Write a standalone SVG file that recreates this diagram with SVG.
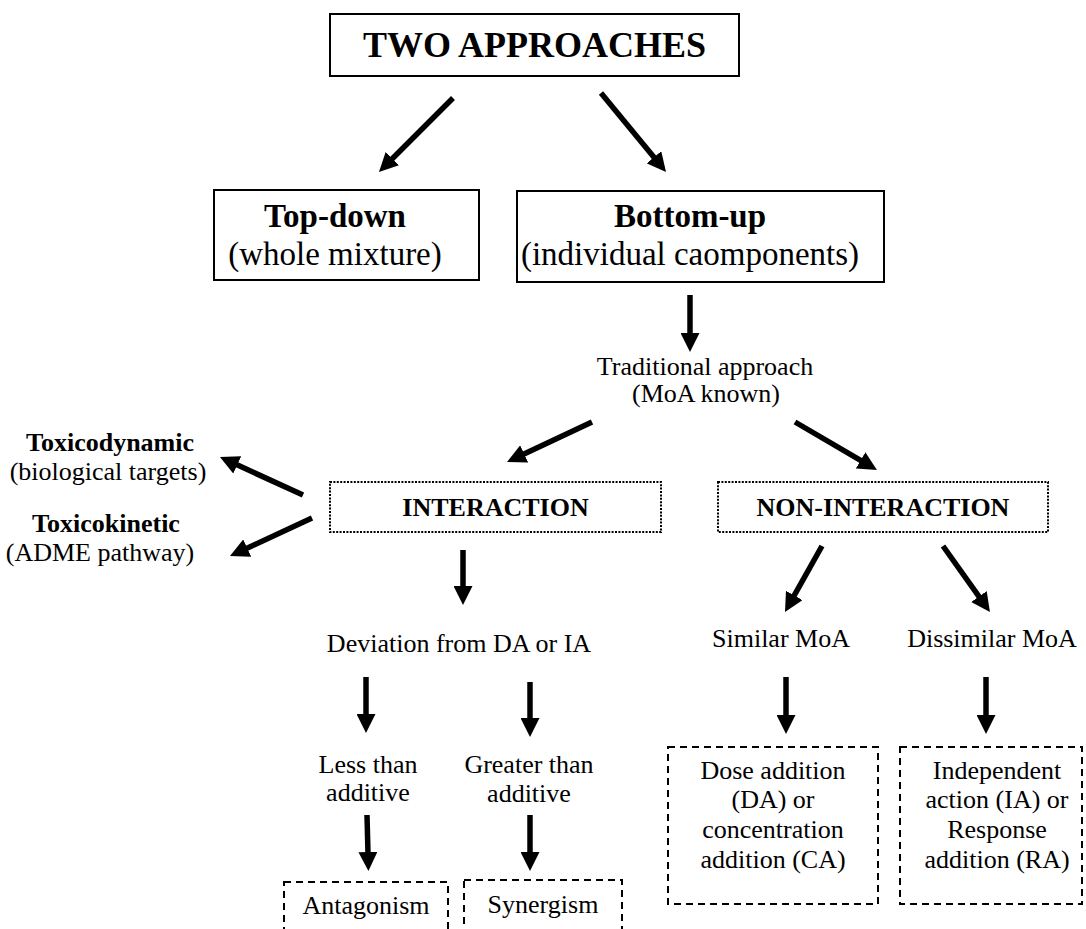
<svg xmlns="http://www.w3.org/2000/svg" width="1086" height="929" viewBox="0 0 1086 929">
<style>
text{font-family:"Liberation Serif","Times New Roman",serif;fill:#000;text-anchor:middle}
.b{font-weight:bold}
.t1{font-size:36px}
.t2{font-size:33px}
.t3{font-size:26px}
.solid{fill:#fff;stroke:#000;stroke-width:2}
.dot{fill:none;stroke:#000;stroke-width:2;stroke-dasharray:2 1.4}
.dash{fill:none;stroke:#000;stroke-width:2;stroke-dasharray:7 5}
.arr{stroke:#000;stroke-width:5.5;fill:none;marker-end:url(#ah)}
</style>
<defs>
<marker id="ah" markerUnits="userSpaceOnUse" markerWidth="19" markerHeight="19" refX="2" refY="9.5" orient="auto">
<path d="M0,0 L19,9.5 L0,19 z" fill="#000"/>
</marker>
</defs>
<rect width="1086" height="929" fill="#fff"/>
<g id="connectors">
<line class="arr" x1="453" y1="98" x2="391" y2="160"/>
<line class="arr" x1="601" y1="93" x2="655.2" y2="158.8"/>
<line class="arr" x1="690" y1="295" x2="690" y2="335"/>
<line class="arr" x1="592" y1="422" x2="522.4" y2="454.8"/>
<line class="arr" x1="795" y1="422" x2="862.3" y2="461.4"/>
<line class="arr" x1="303" y1="495" x2="235.4" y2="464.1"/>
<line class="arr" x1="312" y1="518" x2="245.4" y2="548.9"/>
<line class="arr" x1="463" y1="550" x2="463" y2="588"/>
<line class="arr" x1="822" y1="546" x2="793.3" y2="597.2"/>
<line class="arr" x1="943" y1="546" x2="980.1" y2="598.2"/>
<line class="arr" x1="366" y1="677" x2="366" y2="716"/>
<line class="arr" x1="530" y1="682" x2="530" y2="720"/>
<line class="arr" x1="367" y1="815" x2="368" y2="854"/>
<line class="arr" x1="530" y1="815" x2="530" y2="854"/>
<line class="arr" x1="786" y1="677" x2="786" y2="717"/>
<line class="arr" x1="986" y1="677" x2="986" y2="717"/>
</g>
<g id="title">
<rect class="solid" x="330" y="14" width="409" height="62"/>
<text class="b t1" x="534.5" y="57">TWO APPROACHES</text>
</g>
<g id="topdown">
<rect class="solid" x="214" y="190" width="265" height="90"/>
<text class="b t2" x="335" y="227">Top-down</text>
<text class="t2" x="335" y="265">(whole mixture)</text>
</g>
<g id="bottomup">
<rect class="solid" x="517" y="191" width="367" height="91"/>
<text class="b t2" x="690" y="227">Bottom-up</text>
<text class="t2" x="690" y="265">(individual caomponents)</text>
</g>
<g id="traditional">
<text class="t3" x="705" y="375">Traditional approach</text>
<text class="t3" x="706" y="402">(MoA known)</text>
</g>
<g id="toxicodynamic">
<text class="b t3" x="110" y="451">Toxicodynamic</text>
<text class="t3" x="108" y="480">(biological targets)</text>
</g>
<g id="toxicokinetic">
<text class="b t3" x="106" y="532">Toxicokinetic</text>
<text class="t3" x="100" y="561">(ADME pathway)</text>
</g>
<g id="interaction">
<rect class="dot" x="330" y="482" width="331" height="50"/>
<text class="b t3" x="495.5" y="516">INTERACTION</text>
</g>
<g id="noninteraction">
<rect class="dot" x="718" y="482" width="330" height="50"/>
<text class="b t3" x="883" y="516">NON-INTERACTION</text>
</g>
<g id="deviation">
<text class="t3" x="459" y="652">Deviation from DA or IA</text>
</g>
<g id="similar">
<text class="t3" x="781" y="647">Similar MoA</text>
</g>
<g id="dissimilar">
<text class="t3" x="992" y="647">Dissimilar MoA</text>
</g>
<g id="less">
<text class="t3" x="368" y="773">Less than</text>
<text class="t3" x="368" y="801">additive</text>
</g>
<g id="greater">
<text class="t3" x="529" y="773">Greater than</text>
<text class="t3" x="529" y="802">additive</text>
</g>
<g id="antagonism">
<rect class="dash" x="284" y="882" width="164" height="60"/>
<text class="t3" x="366" y="914">Antagonism</text>
</g>
<g id="synergism">
<rect class="dash" x="464" y="880" width="158" height="62"/>
<text class="t3" x="543" y="913">Synergism</text>
</g>
<g id="doseaddition">
<rect class="dash" x="668" y="747" width="210" height="157"/>
<text class="t3" x="773" y="779">Dose addition</text>
<text class="t3" x="773" y="808">(DA) or</text>
<text class="t3" x="773" y="838">concentration</text>
<text class="t3" x="773" y="868">addition (CA)</text>
</g>
<g id="independent">
<rect class="dash" x="900" y="747" width="182" height="157"/>
<text class="t3" x="997" y="779">Independent</text>
<text class="t3" x="997" y="808">action (IA) or</text>
<text class="t3" x="997" y="838">Response</text>
<text class="t3" x="997" y="868">addition (RA)</text>
</g>
</svg>
